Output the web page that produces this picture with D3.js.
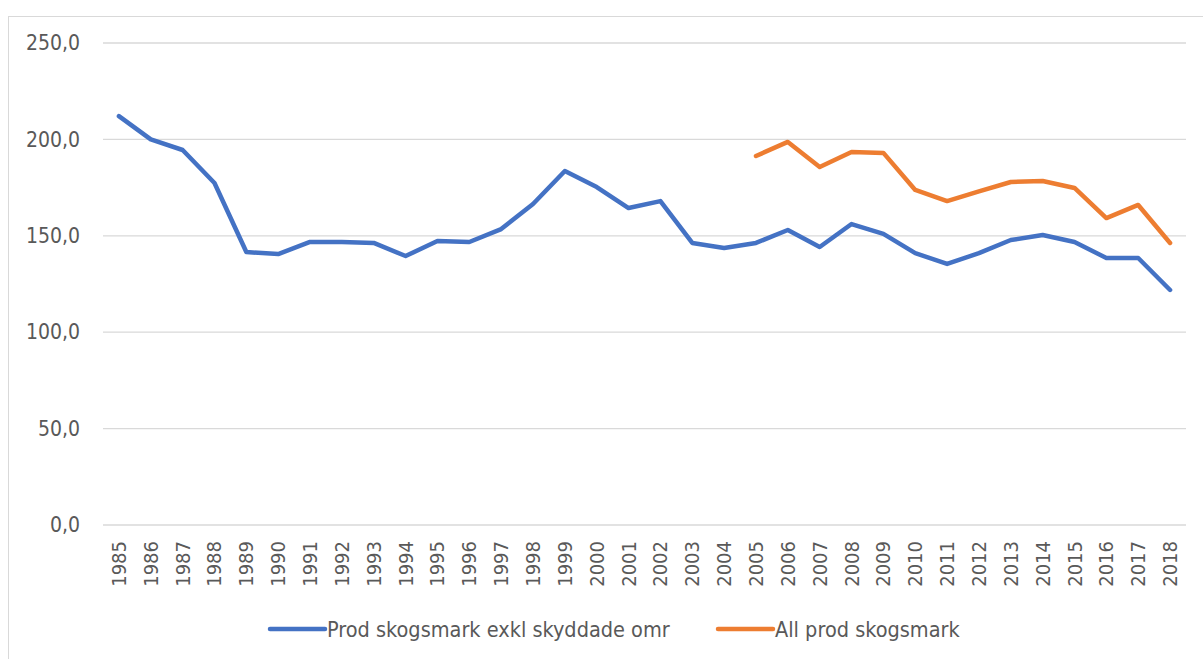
<!DOCTYPE html>
<html>
<head>
<meta charset="utf-8">
<script src="https://cdn.jsdelivr.net/npm/d3@7"></script>
<style>
  body { margin: 0; background: #fff; }
  svg text { font-family: "Liberation Sans Narrow", "DejaVu Sans Condensed", "Liberation Sans", sans-serif; fill: #595959; }
</style>
</head>
<body>
<div id="chart"></div>
<script>
var years = d3.range(1985, 2019).map(String);

// Prod skogsmark exkl skyddade omr
var exklValues = [212.1, 200.0, 194.5, 177.4, 141.6, 140.5, 146.8, 146.8, 146.3, 139.5,
  147.3, 146.8, 153.5, 166.5, 183.6, 175.3, 164.4, 168.0, 146.3, 143.7,
  146.3, 153.0, 144.2, 156.1, 151.0, 141.0, 135.4, 141.0, 147.8, 150.4,
  146.8, 138.5, 138.5, 121.9];

// All prod skogsmark, starts 2005
var allYears = d3.range(2005, 2019).map(String);
var allValues = [191.4, 198.7, 185.7, 193.5, 193.0, 173.8, 168.0, 173.0, 177.9, 178.4,
  174.8, 159.2, 166.0, 146.3];

var yTicks = [0, 50, 100, 150, 200, 250];
var seriesNames = ["Prod skogsmark exkl skyddade omr", "All prod skogsmark"];
var colors = ["#4472C4", "#ED7D31"];

var W = 1203, H = 659;
var margin = { top: 43, right: 17, bottom: 134, left: 103 };
var width = W - margin.left - margin.right,
  height = H - margin.top - margin.bottom;

var svg = d3.select("#chart").append("svg")
  .attr("width", W)
  .attr("height", H);

// chart frame
svg.append("rect")
  .attr("x", 8.5).attr("y", 16.5)
  .attr("width", W).attr("height", H)
  .attr("fill", "none")
  .attr("stroke", "#d9d9d9");

var g = svg.append("g")
  .attr("transform", "translate(" + margin.left + "," + margin.top + ")");

var x = d3.scaleBand().domain(years).range([0, width]);
var y = d3.scaleLinear().domain([0, 250]).range([height, 0]);

// gridlines
g.selectAll(".grid")
  .data(yTicks)
  .enter().append("line")
  .attr("x1", 0).attr("x2", width)
  .attr("y1", function (d) { return y(d); })
  .attr("y2", function (d) { return y(d); })
  .attr("stroke", "#d9d9d9")
  .attr("stroke-width", 1.3);

// y axis
var yAxis = g.append("g")
  .call(d3.axisLeft(y).tickValues(yTicks).tickSize(0).tickPadding(23)
    .tickFormat(function (d) { return d3.format(".1f")(d).replace(".", ","); }));
yAxis.select(".domain").remove();
yAxis.selectAll("text").style("font-size", "21px");

// x axis
var xAxis = g.append("g")
  .attr("transform", "translate(0," + height + ")")
  .call(d3.axisBottom(x).tickSize(0));
xAxis.select(".domain").remove();
xAxis.selectAll("text")
  .style("font-size", "20px")
  .style("text-anchor", "end")
  .attr("transform", "rotate(-90)")
  .attr("x", -16)
  .attr("y", 0)
  .attr("dy", "0.35em");

var line = d3.line()
  .x(function (d) { return x(d[0]) + x.bandwidth() / 2; })
  .y(function (d) { return y(d[1]); });

g.append("path")
  .datum(d3.zip(years, exklValues))
  .attr("fill", "none")
  .attr("stroke", colors[0])
  .attr("stroke-width", 4.5)
  .attr("stroke-linecap", "round")
  .attr("stroke-linejoin", "round")
  .attr("d", line);

g.append("path")
  .datum(d3.zip(allYears, allValues))
  .attr("fill", "none")
  .attr("stroke", colors[1])
  .attr("stroke-width", 4.5)
  .attr("stroke-linecap", "round")
  .attr("stroke-linejoin", "round")
  .attr("d", line);

// legend
var legendX = [270, 718];
var legend = svg.selectAll(".legend")
  .data(seriesNames)
  .enter().append("g")
  .attr("transform", function (d, i) { return "translate(" + legendX[i] + ",629)"; });

legend.append("line")
  .attr("x1", 0).attr("x2", 55)
  .attr("stroke", function (d, i) { return colors[i]; })
  .attr("stroke-width", 4.5)
  .attr("stroke-linecap", "round");

legend.append("text")
  .attr("x", 57)
  .attr("dy", "0.35em")
  .style("font-size", "21.5px")
  .text(function (d) { return d; });
</script>
</body>
</html>
